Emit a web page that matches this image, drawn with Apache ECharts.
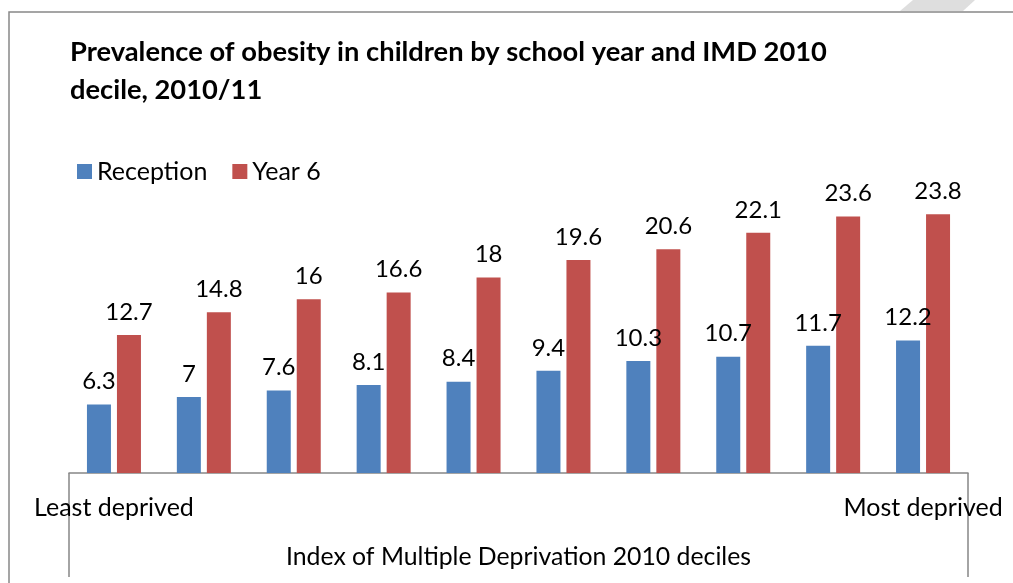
<!DOCTYPE html>
<html>
<head>
<meta charset="utf-8">
<script src="https://cdn.jsdelivr.net/npm/echarts@6/dist/echarts.min.js"></script>
<style>
  html, body { margin: 0; padding: 0; background: #fff; }
  #chart { width: 1013px; height: 583px; }
</style>
</head>
<body>
<div id="chart"></div>
<script>
// Deciles from least to most deprived; only the two ends are labelled
const categories = ['Least deprived', '', '', '', '', '', '', '', '', 'Most deprived'];
const reception = [6.3, 7, 7.6, 8.1, 8.4, 9.4, 10.3, 10.7, 11.7, 12.2];
const year6 = [12.7, 14.8, 16, 16.6, 18, 19.6, 20.6, 22.1, 23.6, 23.8];
const seriesNames = ['Reception', 'Year 6'];
const axisTitle = 'Index of Multiple Deprivation 2010 deciles';
const chartTitle = 'Prevalence of obesity in children by school year and IMD 2010\ndecile, 2010/11';

const FONT = 'Lato';
const chart = echarts.init(document.getElementById('chart'), null, { renderer: 'canvas' });

const labelStyle = {
  show: true,
  position: 'top',
  distance: 11,
  color: '#000',
  fontFamily: FONT,
  fontSize: 24
};

chart.setOption({
  animation: false,
  backgroundColor: '#fff',
  title: {
    text: chartTitle,
    left: 65,
    top: 28,
    textStyle: {
      fontFamily: FONT,
      fontWeight: 'bold',
      fontSize: 27.3,
      lineHeight: 38,
      color: '#000'
    }
  },
  legend: {
    left: 72,
    top: 154,
    icon: 'rect',
    itemWidth: 15,
    itemHeight: 15,
    itemGap: 25,
    textStyle: { fontFamily: FONT, fontSize: 25, color: '#000' },
    data: seriesNames
  },
  grid: { left: 69, right: 45, top: 147, bottom: 110, containLabel: false },
  xAxis: {
    type: 'category',
    data: categories,
    boundaryGap: true,
    axisLine: { lineStyle: { color: '#868686', width: 1.5 } },
    axisTick: {
      show: true,
      interval: function (i) { return i === 0; },
      length: 104,
      lineStyle: { color: '#868686', width: 1.5 }
    },
    axisLabel: {
      interval: 0,
      margin: 22,
      color: '#000',
      fontFamily: FONT,
      fontSize: 25
    },
    name: axisTitle,
    nameLocation: 'middle',
    nameGap: 72,
    nameTextStyle: { color: '#000', fontFamily: FONT, fontSize: 24.8 }
  },
  yAxis: {
    type: 'value',
    min: 0,
    max: 30,
    show: false
  },
  series: [
    {
      name: seriesNames[0],
      type: 'bar',
      data: reception,
      barWidth: 24,
      barGap: '25%',
      itemStyle: { color: '#4F81BD' },
      label: labelStyle
    },
    {
      name: seriesNames[1],
      type: 'bar',
      data: year6,
      barWidth: 24,
      itemStyle: { color: '#C0504D' },
      label: labelStyle
    }
  ],
  graphic: [
    {
      type: 'rect',
      shape: { x: 9, y: 12, width: 1200, height: 800 },
      style: { fill: 'none', stroke: '#888', lineWidth: 1.5 },
      silent: true,
      z: -1
    },
    {
      type: 'polygon',
      shape: { points: [[913, 0], [975, 0], [963, 11], [900, 11]] },
      style: { fill: '#dedede' },
      silent: true
    }
  ]
});
</script>
</body>
</html>
